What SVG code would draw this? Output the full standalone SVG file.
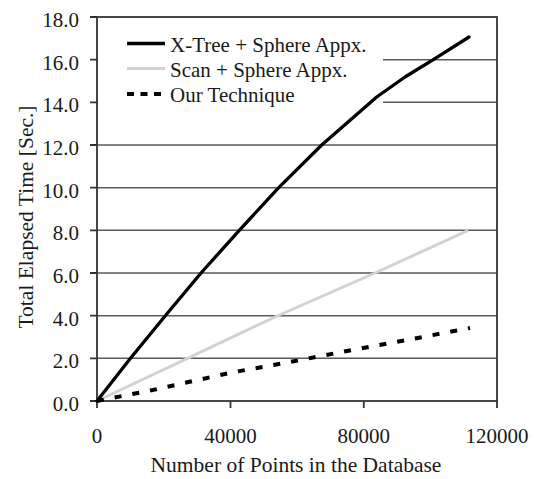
<svg xmlns="http://www.w3.org/2000/svg" width="534" height="479" viewBox="0 0 534 479" font-family="'Liberation Serif', 'Times New Roman', Times, serif">
<style>
text{font-family:"Liberation Serif","Times New Roman",Times,serif;fill:#1a1a1a;}
.tick{font-size:21px;}
.ylab{text-anchor:end;}
.xlab{text-anchor:middle;}
.title{font-size:21.5px;text-anchor:middle;}
.leg{font-size:21px;}
.grid{stroke:#5a5a5a;stroke-width:1.4;fill:none;}
.axis{stroke:#333;stroke-width:1.8;fill:none;}
.xtree{stroke:#000;stroke-width:3.3;fill:none;stroke-linejoin:round;stroke-linecap:round;}
.scan{stroke:#d2d2d2;stroke-width:3;fill:none;stroke-linejoin:round;}
.ours{stroke:#000;stroke-width:4;fill:none;stroke-dasharray:7 11;}
</style>
<rect width="534" height="479" fill="#fff"/>
<g id="gridlines">
<path class="grid" d="M97 358.3H497M97 315.7H497M97 273H497M97 230.3H497M97 187.7H497M97 145H497M97 102.3H497M97 59.7H497"/>
</g>
<g id="legend-bg">
<rect x="98" y="24" width="285" height="88" fill="#fff"/>
</g>
<g id="axes">
<rect class="axis" x="97" y="17" width="400" height="384"/>
<path class="axis" d="M90 401H97M90 358.3H97M90 315.7H97M90 273H97M90 230.3H97M90 187.7H97M90 145H97M90 102.3H97M90 59.7H97M90 17H97"/>
<path class="axis" d="M97 401V408M230.5 401V408M363.8 401V408M497 401V408"/>
</g>
<g id="y-labels">
<text class="tick ylab" x="79" y="411">0.0</text>
<text class="tick ylab" x="79" y="368.3">2.0</text>
<text class="tick ylab" x="79" y="325.7">4.0</text>
<text class="tick ylab" x="79" y="283">6.0</text>
<text class="tick ylab" x="79" y="240.3">8.0</text>
<text class="tick ylab" x="79" y="197.7">10.0</text>
<text class="tick ylab" x="79" y="155">12.0</text>
<text class="tick ylab" x="79" y="112.3">14.0</text>
<text class="tick ylab" x="79" y="69.7">16.0</text>
<text class="tick ylab" x="79" y="27">18.0</text>
</g>
<g id="x-labels">
<text class="tick xlab" x="97" y="443">0</text>
<text class="tick xlab" x="230.5" y="443">40000</text>
<text class="tick xlab" x="363.8" y="443">80000</text>
<text class="tick xlab" x="497" y="443">120000</text>
</g>
<g id="titles">
<text class="title" x="296" y="472">Number of Points in the Database</text>
<text class="title" transform="translate(33 217) rotate(-90)" x="0" y="0">Total Elapsed Time [Sec.]</text>
</g>
<g id="series">
<polyline id="scan" class="scan" points="97,401 184.3,359.8 276,316.5 375,273 468.3,230.3"/>
<polyline id="ours" class="ours" points="97,401 152.7,390 232.7,372.3 286,362.7 355,349.5 415,338.5 470,328"/>
<path id="xtree" class="xtree" d="M97 401L130.5 358.3L165.3 315.7L201 273L239.3 230.3L278.7 187.7L321.7 145L376.7 97L405 77L433.3 59.7L469 37"/>
</g>
<g id="legend">
<line class="xtree" x1="127" y1="43.5" x2="165" y2="43.5" style="stroke-linecap:butt"/>
<line class="scan" x1="127" y1="68.5" x2="165" y2="68.5"/>
<line class="ours" x1="127" y1="94" x2="165" y2="94" style="stroke-dasharray:7 6.5"/>
<text class="leg" x="170" y="52">X-Tree + Sphere Appx.</text>
<text class="leg" x="170" y="77">Scan + Sphere Appx.</text>
<text class="leg" x="170" y="102">Our Technique</text>
</g>
</svg>
